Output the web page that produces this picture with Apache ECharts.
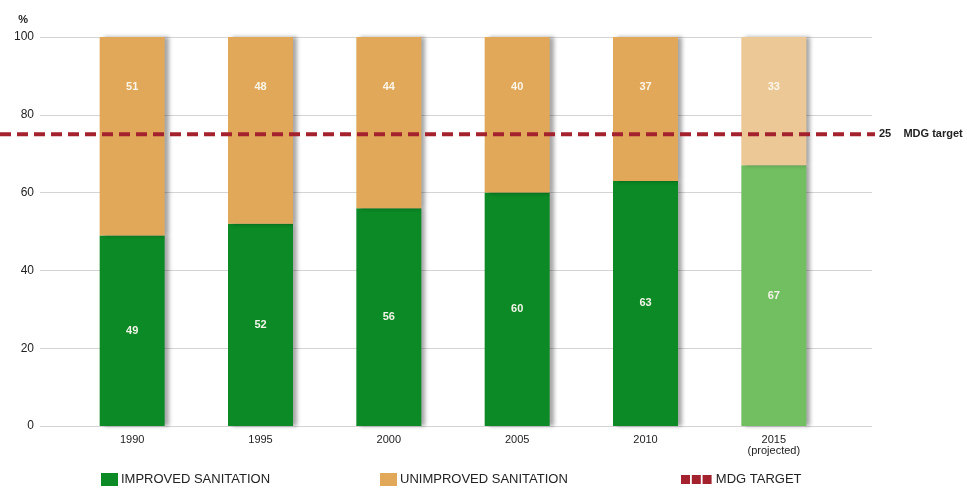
<!DOCTYPE html>
<html><head><meta charset="utf-8">
<script src="https://cdn.jsdelivr.net/npm/echarts@6/dist/echarts.min.js"></script>
<style>html,body{margin:0;padding:0;background:#fff}#c{width:967px;height:493px}</style>
</head><body><div id="c"></div>
<script>
const categories = ['1990','1995','2000','2005','2010','2015\n(projected)'];
const improved = [49,52,56,60,63,67];
const unimproved = [51,48,44,40,37,33];
const mdgTarget = 75;
const mdgLabel = '25    MDG target';
const yTicks = [0,20,40,60,80,100];

const FONT = "'Liberation Sans',Arial,sans-serif";
const GREEN = '#0b8a25', GREEN_P = '#71bf60', TAN = '#e0a858', TAN_P = '#ecc896', RED = '#a3222e';
const projIdx = categories.length - 1;
const shadow = {shadowBlur:4, shadowColor:'rgba(0,0,0,0.35)', shadowOffsetX:4, shadowOffsetY:0};
const legendText = {color:'#222', fontSize:13, fontFamily:FONT, padding:[0,0,0,-2]};

const chart = echarts.init(document.getElementById('c'));
chart.setOption({
  animation:false,
  textStyle:{fontFamily:FONT},
  grid:[
    {left:68, right:129, top:37, bottom:67},
    {left:40, right:95, top:37, bottom:67},
    {left:0, right:92, top:37, bottom:67}
  ],
  xAxis:[
    {gridIndex:0, type:'category', data:categories, axisLine:{show:false}, axisTick:{show:false},
     axisLabel:{color:'#222', fontSize:11, margin:8, fontFamily:FONT, lineHeight:11}},
    {gridIndex:1, type:'value', show:false, min:0, max:1},
    {gridIndex:2, type:'value', show:false, min:0, max:1}
  ],
  yAxis:[
    {gridIndex:0, type:'value', min:0, max:100, show:false},
    {gridIndex:1, type:'value', min:0, max:100, interval:20, name:'%', nameGap:12,
     nameTextStyle:{color:'#222', fontSize:11, fontWeight:'bold', align:'right', padding:[0,12,0,0]},
     axisLine:{show:false}, axisTick:{show:false},
     splitLine:{lineStyle:{color:'#d4d4d4', width:1}},
     axisLabel:{color:'#222', fontSize:12, margin:6, fontFamily:FONT}},
    {gridIndex:2, type:'value', min:0, max:100, show:false}
  ],
  legend:[
    {left:101, top:473, padding:0, itemWidth:17, itemHeight:13, icon:'rect', data:['IMPROVED SANITATION'], textStyle:legendText},
    {left:380, top:473, padding:0, itemWidth:17, itemHeight:13, icon:'rect', data:['UNIMPROVED SANITATION'], textStyle:legendText},
    {left:681, top:473, padding:0, itemWidth:33, itemHeight:9, icon:'path://M0,0h10v10h-10z M12,0h10v10h-10z M24,0h10v10h-10z',
     data:['MDG TARGET'], textStyle:legendText}
  ],
  series:[
    {name:'IMPROVED SANITATION', type:'bar', stack:'s', xAxisIndex:0, yAxisIndex:0, barWidth:65,
     itemStyle:Object.assign({color:GREEN}, shadow),
     label:{show:true, position:'inside', color:'#f4f4e8', fontSize:11, fontWeight:'bold', fontFamily:FONT},
     data:improved.map((v,i)=> i===projIdx ? {value:v, itemStyle:{color:GREEN_P}} : v), z:3},
    {name:'UNIMPROVED SANITATION', type:'bar', stack:'s', xAxisIndex:0, yAxisIndex:0, barWidth:65,
     itemStyle:Object.assign({color:TAN}, shadow),
     label:{show:true, position:'insideTop', distance:44, color:'#fbf6ea', fontSize:11, fontWeight:'bold', fontFamily:FONT},
     data:unimproved.map((v,i)=> i===projIdx ? {value:v, itemStyle:{color:TAN_P}} : v), z:3},
    {name:'MDG TARGET', type:'line', xAxisIndex:2, yAxisIndex:2, showSymbol:false, symbol:'none', z:10,
     itemStyle:{color:RED},
     lineStyle:{color:RED, width:4, type:[11,6]},
     endLabel:{show:true, formatter:mdgLabel, color:'#222', fontSize:11, fontWeight:'bold', distance:4, fontFamily:FONT},
     data:[[0,mdgTarget],[1,mdgTarget]]}
  ]
});
</script></body></html>
